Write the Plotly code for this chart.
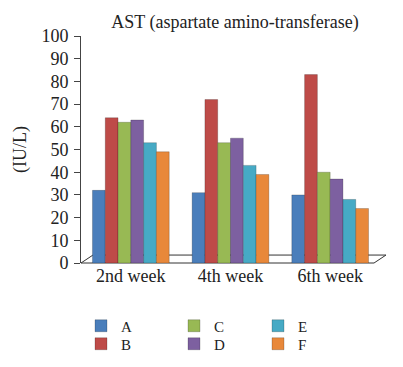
import plotly.graph_objects as go

weeks = ["2nd week", "4th week", "6th week"]
series_names = ["A", "B", "C", "D", "E", "F"]
A = [32, 31, 30]
B = [64, 72, 83]
C = [62, 53, 40]
D = [63, 55, 37]
E = [53, 43, 28]
F = [49, 39, 24]
values = [A, B, C, D, E, F]
colors = ["#4A7EBB", "#BE4B48", "#98B954", "#7D60A0", "#46AAC5", "#E8883A"]
legend_ids = ["legend", "legend2", "legend3", "legend4", "legend5", "legend6"]
# legend anchor positions in figure pixels
legend_px = [73, 73, 166, 166, 250, 250]
legend_py = [318, 336, 318, 336, 318, 336]

W, H = 403, 367
ML, MR, MT, MB = 73, 31, 28, 112
PW, PH = W - ML - MR, H - MT - MB
font_family = "Liberation Serif"

fig = go.Figure()
for name, vals, col, lg in zip(series_names, values, colors, legend_ids):
    fig.add_trace(go.Bar(
        x=weeks, y=vals, name=name, legend=lg,
        marker=dict(color=col, line=dict(color="rgba(0,0,0,0.25)", width=0.8)),
    ))

legends = {}
for lg, lx, ly in zip(legend_ids, legend_px, legend_py):
    legends[lg] = dict(orientation="v", font=dict(family=font_family, size=15, color="#222"),
                       bgcolor="rgba(0,0,0,0)", itemwidth=30, tracegroupgap=0,
                       xanchor="left", yanchor="middle", x=lx / W, xref="container",
                       y=(H - ly) / H, yref="container")

# 3D-like floor outline (decoration in paper coordinates)
fig.add_shape(type="path", xref="paper", yref="paper",
              path="M 0,0 L 0.04,0.035 L 1.02,0.035 L 0.98,0 Z",
              line=dict(color="#333", width=1), fillcolor="rgba(0,0,0,0)", layer="below")

fig.add_annotation(text="(IU/L)", xref="paper", yref="paper",
                   x=(12 - ML) / PW, y=(H - MB - 142) / PH, textangle=-90, showarrow=False,
                   xanchor="center", yanchor="middle",
                   font=dict(family=font_family, size=18, color="#222"))

fig.update_layout(
    width=W, height=H,
    margin=dict(l=ML, r=MR, t=MT, b=MB, autoexpand=False),
    paper_bgcolor="white", plot_bgcolor="white",
    barmode="group", bargap=0.23, bargroupgap=0.0,
    font=dict(family=font_family, size=17, color="#222"),
    title=dict(text="AST (aspartate amino-transferase)", x=227 / W, xanchor="center",
               xref="container", y=(H - 14) / H, yanchor="middle", yref="container",
               font=dict(family=font_family, size=18, color="#222")),
    showlegend=True,
    **legends,
    yaxis=dict(range=[0, 100], dtick=10, showgrid=False, showline=True, linecolor="#444",
               linewidth=1, ticks="outside", ticklen=6, tickcolor="#444", automargin=False,
               ticklabelstandoff=2,
               tickfont=dict(family=font_family, size=18, color="#222"),
               zeroline=False),
    xaxis=dict(showline=False, ticks="", automargin=False,
               tickfont=dict(family=font_family, size=18, color="#222")),
)

fig.write_html("out.html")
